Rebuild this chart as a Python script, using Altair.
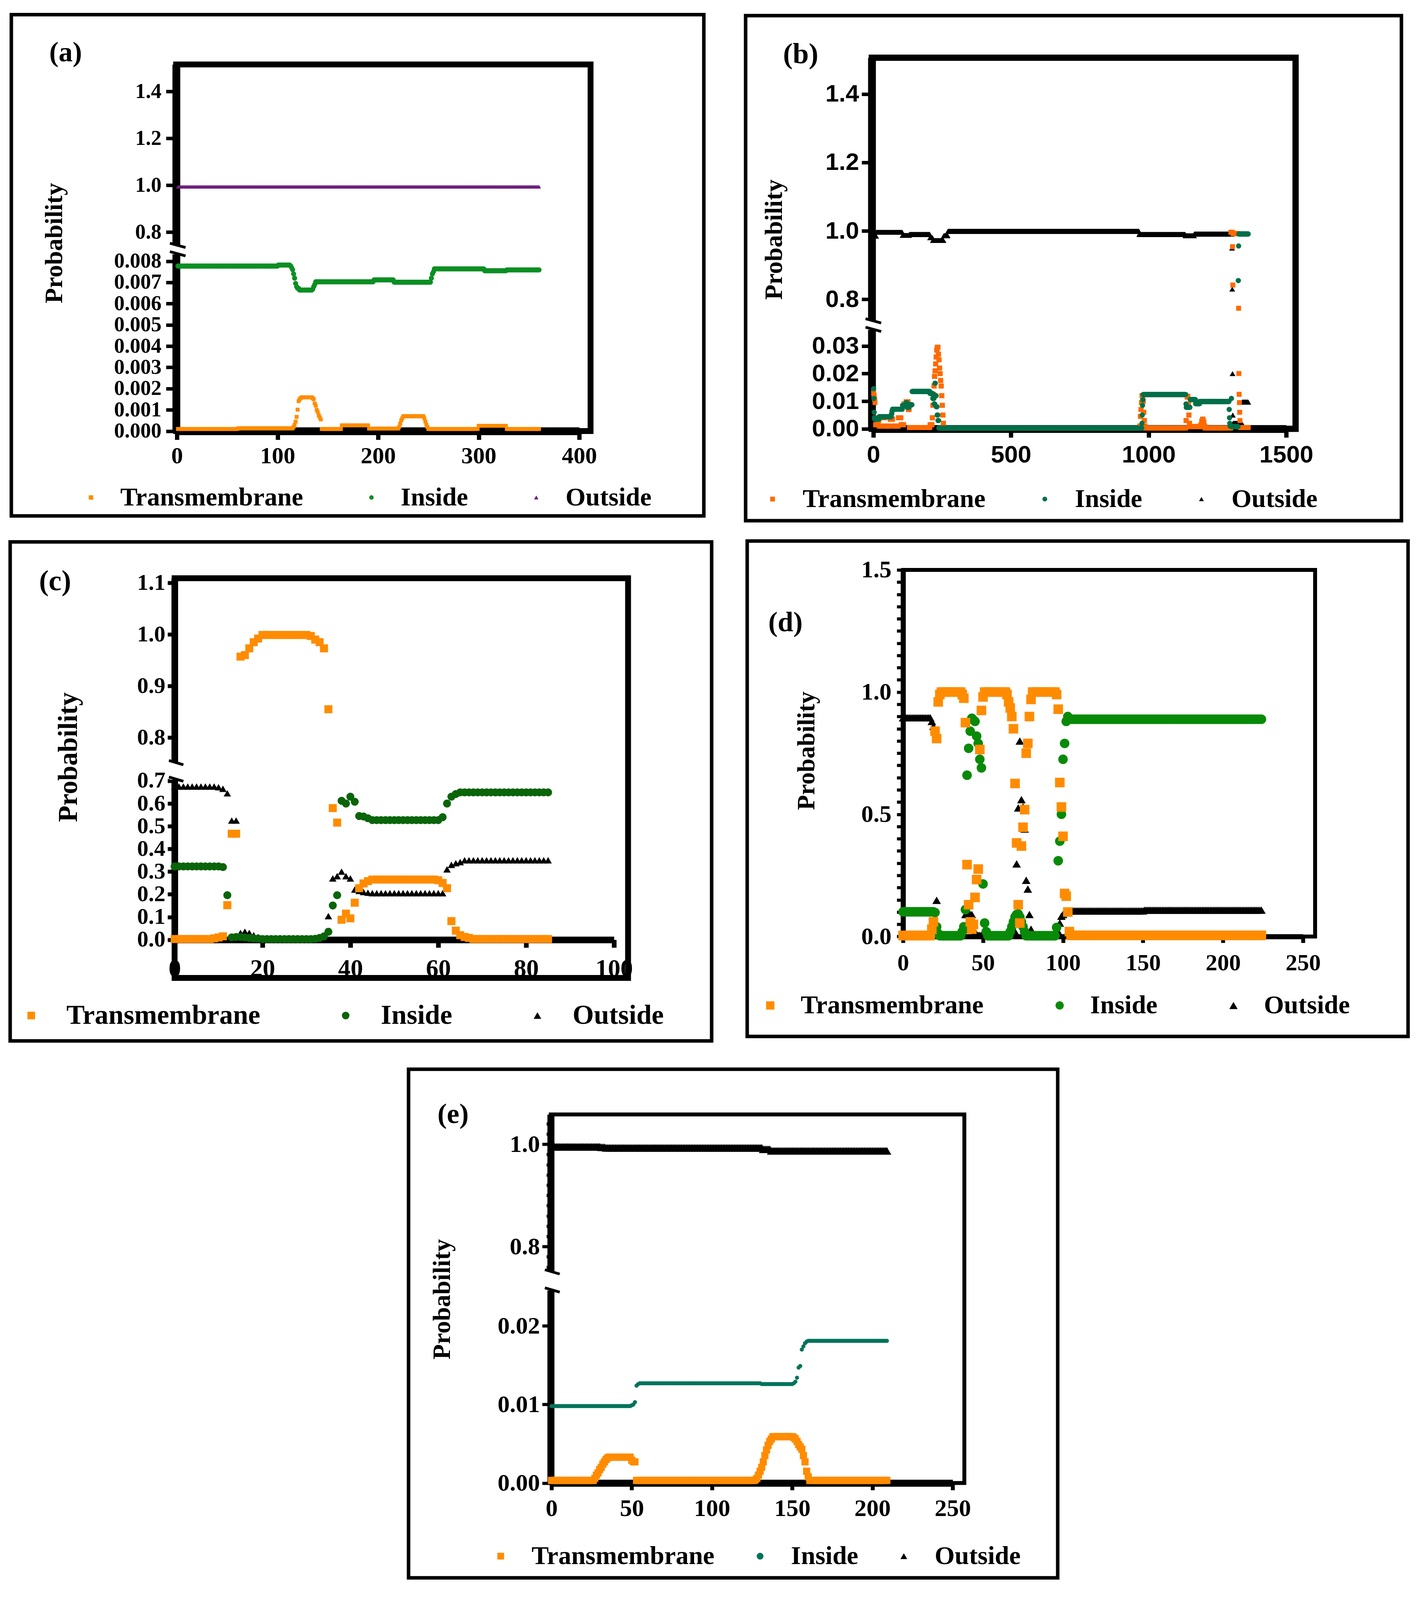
import altair as alt
import pandas as pd

# The page is photographed in a viewport about 4096px tall, so the reference
# layout (3633 x 4935) is kept horizontally and compressed vertically by S.
W, H = 3617, 4060
S = 4046 / 4919
SERIES = ["Transmembrane", "Inside", "Outside"]
SHAPES = ["square", "circle", "triangle-up"]
SERIF = "Liberation Serif"
SANS = "Liberation Sans"


def runs(*pairs):
    # (count, value) pairs
    vals = []
    for n, v in pairs:
        vals.extend([v] * n)
    return vals


# ---------------- (a) positions 1..360
a_tm = runs((60, 0.0001), (55, 0.00013), (1, 0.0002), (1, 0.0003), (1, 0.00045), (1, 0.00067),
            (1, 0.00101), (1, 0.00141), (1, 0.0015), (1, 0.00155), (11, 0.00159), (1, 0.00155),
            (1, 0.0015), (1, 0.0013), (1, 0.0012), (1, 0.001), (1, 0.0009), (1, 0.00075),
            (1, 0.00065), (1, 0.00055), (20, 0.0001), (27, 0.00027), (30, 0.00012), (1, 0.0002),
            (1, 0.00035), (1, 0.0005), (1, 0.0006), (21, 0.0007), (1, 0.0006), (1, 0.00045),
            (1, 0.0003), (1, 0.0002), (50, 0.0001), (28, 0.00025), (33, 0.0001))
a_in = runs((100, 0.00777), (12, 0.00782), (1, 0.00778), (1, 0.0077), (1, 0.0076), (1, 0.0074),
            (1, 0.0072), (1, 0.00695), (1, 0.0068), (2, 0.00672), (13, 0.00664), (1, 0.00668),
            (1, 0.0068), (1, 0.0069), (58, 0.00703), (20, 0.00712), (37, 0.00701), (1, 0.0072),
            (1, 0.0074), (1, 0.0075), (50, 0.00764), (22, 0.00755), (33, 0.00759))
a_out = runs((360, 0.994))

# ---------------- (b) positions 1..1362
b_tm = runs((1, 0.013), (1, 0.0125), (1, 0.012), (1, 0.011), (1, 0.0105), (1, 0.0095), (1, 0.004),
            (8, 0.0015), (5, 0.003), (10, 0.001), (10, 0.004), (20, 0.001), (10, 0.0035),
            (20, 0.001), (10, 0.004), (10, 0.0015), (8, 0.009), (8, 0.0098), (4, 0.007),
            (75, 0.0005), (8, 0.0015),
            (2, 0.004), (2, 0.0085), (2, 0.0125), (2, 0.0155), (2, 0.019), (2, 0.021), (2, 0.0235),
            (2, 0.026), (2, 0.0285), (2, 0.0295), (2, 0.0295), (2, 0.027), (2, 0.025), (2, 0.022),
            (2, 0.02), (2, 0.0175), (2, 0.0155), (2, 0.012), (2, 0.0085), (2, 0.005), (2, 0.002),
            (712, 0.0003),
            (2, 0.001), (2, 0.0045), (2, 0.007), (2, 0.0095), (2, 0.012), (2, 0.0115), (2, 0.01),
            (2, 0.006), (2, 0.003), (2, 0.001), (148, 0.0003),
            (2, 0.003), (2, 0.008), (2, 0.0115), (2, 0.0118), (2, 0.009), (2, 0.005), (2, 0.002),
            (40, 0.0008), (3, 0.0015), (3, 0.0028), (3, 0.0035), (3, 0.0025), (3, 0.001),
            (94, 0.0003), (6, 0.996), (1, 0.954), (1, 0.842), (20, 0.992), (1, 0.774), (1, 0.02),
            (1, 0.0125), (1, 0.0095), (1, 0.006), (1, 0.003), (30, 0.0005))
b_in = runs((1, 0.0145), (1, 0.011), (1, 0.006), (1, 0.004), (16, 0.0035), (45, 0.0044),
            (2, 0.0055), (2, 0.0065), (36, 0.0071), (13, 0.0085), (4, 0.0095), (8, 0.0078),
            (10, 0.0087), (65, 0.0135), (10, 0.0128), (5, 0.011), (3, 0.009), (2, 0.0165),
            (3, 0.012), (3, 0.008), (3, 0.005), (3, 0.003), (738, 0.0003), (1, 0.002), (1, 0.005),
            (1, 0.0085), (1, 0.0105), (156, 0.0124), (1, 0.009), (14, 0.0078), (20, 0.0106),
            (15, 0.0091), (107, 0.0099), (1, 0.007), (1, 0.004), (1, 0.002), (5, 0.001),
            (1, 0.011), (24, 0.0008), (1, 0.855), (1, 0.956), (35, 0.991))
b_out = runs((10, 0.985), (95, 0.996), (25, 0.987), (75, 0.99), (10, 0.98), (40, 0.972),
             (15, 0.986), (695, 0.999), (168, 0.99), (32, 0.986), (137, 0.991), (1, 0.95),
             (1, 0.83), (1, 0.02), (1, 0.005), (33, 0.002), (23, 0.0097))

# ---------------- (c) positions 0..85
c_tm = runs((9, 0.003), (1, 0.006), (1, 0.01), (1, 0.015), (1, 0.152), (2, 0.467), (1, 0.957),
            (1, 0.96), (1, 0.973), (1, 0.985), (1, 0.992), (11, 0.999), (1, 0.997), (1, 0.99),
            (1, 0.985), (1, 0.973), (1, 0.855), (1, 0.58), (1, 0.516), (1, 0.088), (1, 0.115),
            (1, 0.094), (1, 0.163), (1, 0.227), (1, 0.248), (1, 0.258), (15, 0.265), (1, 0.262),
            (1, 0.25), (1, 0.227), (1, 0.082), (1, 0.04), (1, 0.02), (1, 0.012), (1, 0.008),
            (18, 0.003))
c_in = runs((11, 0.323), (1, 0.32), (1, 0.196), (1, 0.01), (2, 0.012), (1, 0.01), (1, 0.008),
            (1, 0.006), (1, 0.005), (12, 0.003), (1, 0.004), (1, 0.008), (1, 0.015), (1, 0.035),
            (1, 0.151), (1, 0.196), (1, 0.612), (1, 0.6), (1, 0.63), (1, 0.608), (1, 0.545),
            (1, 0.543), (1, 0.535), (16, 0.527), (1, 0.54), (1, 0.6), (1, 0.63), (1, 0.642),
            (21, 0.649))
c_out = runs((10, 0.675), (1, 0.672), (1, 0.665), (1, 0.645), (2, 0.525), (1, 0.03), (1, 0.035),
             (1, 0.03), (1, 0.02), (1, 0.012), (14, 0.004), (1, 0.01), (1, 0.104), (1, 0.27),
             (1, 0.28), (1, 0.30), (1, 0.28), (1, 0.27), (1, 0.221), (1, 0.215), (1, 0.21),
             (1, 0.207), (17, 0.205), (1, 0.31), (1, 0.33), (1, 0.337), (1, 0.342), (20, 0.35))

# ---------------- (d) positions 0..224
d_tm = runs((18, 0.004), (1, 0.03), (1, 0.06), (1, 0.84), (1, 0.81), (1, 0.96), (1, 0.99),
            (13, 1.0), (1, 0.99), (1, 0.975), (1, 0.875), (1, 0.294), (1, 0.13), (1, 0.06),
            (1, 0.03), (1, 0.05), (1, 0.16), (1, 0.233), (1, 0.276), (1, 0.765), (1, 0.925),
            (1, 0.98), (14, 1.0), (1, 0.99), (1, 0.96), (1, 0.935), (1, 0.9), (1, 0.85),
            (1, 0.626), (1, 0.383), (1, 0.13), (1, 0.055), (1, 0.37), (1, 0.447), (1, 0.519),
            (1, 0.75), (1, 0.79), (1, 0.9), (1, 0.97), (15, 1.0), (1, 0.99), (1, 0.93), (1, 0.63),
            (1, 0.53), (1, 0.41), (1, 0.176), (1, 0.165), (1, 0.10), (1, 0.02), (120, 0.005))
d_in = runs((20, 0.101), (1, 0.098), (1, 0.04), (1, 0.012), (14, 0.003), (1, 0.02), (1, 0.04),
            (1, 0.11), (1, 0.66), (1, 0.77), (1, 0.84), (1, 0.893), (1, 0.886), (1, 0.88),
            (1, 0.82), (1, 0.79), (1, 0.725), (1, 0.69), (1, 0.215), (1, 0.055), (1, 0.02),
            (14, 0.003), (1, 0.02), (1, 0.04), (1, 0.06), (1, 0.08), (1, 0.09), (1, 0.092),
            (1, 0.08), (1, 0.06), (1, 0.04), (1, 0.02), (19, 0.003), (1, 0.037), (1, 0.31),
            (1, 0.39), (1, 0.50), (1, 0.725), (1, 0.79), (1, 0.88), (1, 0.9), (121, 0.889))
d_out = runs((18, 0.895), (1, 0.88), (1, 0.86), (1, 0.84), (1, 0.148), (1, 0.03), (15, 0.005),
             (1, 0.03), (1, 0.09), (1, 0.09), (1, 0.1), (1, 0.09), (1, 0.09), (1, 0.05),
             (1, 0.02), (24, 0.005), (1, 0.02), (1, 0.297), (1, 0.526), (1, 0.80), (1, 0.56),
             (1, 0.53), (1, 0.44), (1, 0.23), (1, 0.194), (1, 0.09), (1, 0.03), (16, 0.005),
             (1, 0.02), (1, 0.055), (1, 0.083), (1, 0.09), (1, 0.1), (49, 0.105), (74, 0.108))

# ---------------- (e) positions 0..209
e_tm = runs((27, 0.00033), (1, 0.0006), (1, 0.001), (1, 0.0013), (1, 0.0017), (1, 0.002),
            (1, 0.0024), (1, 0.0027), (1, 0.003), (1, 0.0032), (14, 0.0033), (1, 0.0029),
            (2, 0.0027), (74, 0.00033), (1, 0.0004), (1, 0.0006), (1, 0.001), (1, 0.0015),
            (1, 0.002), (1, 0.0027), (1, 0.0035), (1, 0.0042), (1, 0.0048), (1, 0.0053),
            (1, 0.0056), (13, 0.0059), (1, 0.0058), (1, 0.0056), (1, 0.0053), (1, 0.0049),
            (1, 0.0046), (1, 0.0043), (1, 0.0035), (1, 0.0027), (1, 0.0015), (1, 0.0008),
            (49, 0.00033))
e_in = runs((50, 0.0098), (1, 0.0099), (1, 0.01), (1, 0.0103), (1, 0.0124), (1, 0.0126),
            (76, 0.0127), (20, 0.0126), (1, 0.0127), (1, 0.0129), (1, 0.0134), (1, 0.0147),
            (1, 0.0149), (1, 0.017), (1, 0.0174), (1, 0.0178), (1, 0.018), (50, 0.0181))
e_out = runs((31, 0.995), (3, 0.994), (98, 0.993), (5, 0.99), (73, 0.987))

# axis tick values
a_yticks = [0, 0.001, 0.002, 0.003, 0.004, 0.005, 0.006, 0.007, 0.008, 0.8, 1.0, 1.2, 1.4]
b_yticks = [0, 0.01, 0.02, 0.03, 0.8, 1.0, 1.2, 1.4]
c_yticks = [0, 0.1, 0.2, 0.3, 0.4, 0.5, 0.6, 0.7, 0.8, 0.9, 1.0, 1.1]
d_yticks = [round(0.05 * i, 2) for i in range(31)]
e_yticks = [0, 0.01, 0.02, 0.8, 1.0]
e_yminor = [0.76, 0.78, 0.82, 0.84, 0.86, 0.88, 0.9, 0.92, 0.94, 0.96, 0.98, 1.02, 1.04]

FMT3 = "datum.value < 0.5 ? format(datum.value, '.3f') : format(datum.value, '.1f')"
FMT2 = "datum.value < 0.5 ? format(datum.value, '.2f') : format(datum.value, '.1f')"

# layout in reference-image pixels (x as is, y compressed by S in cy)
PANELS = [
    dict(tag="(a)", tm=a_tm, ins=a_in, out=a_out, start=1,
         order=["Transmembrane", "Inside", "Outside"],
         colors=["#ff8c00", "#0b8f23", "#6d1f7c"], sizes=[100, 170, 110],
         box=(29, 44, 1802, 1604), tagpos=(168, 162, 72),
         frame=(451, 199, 1512, 1340), frame_w=15, axis_w=20,
         xdom=[0, 400], xrange=[453, 1483], xvals=[0, 100, 200, 300, 400],
         ydom=[0, 0.00832, 0.7466, 1.515], yrange=[1340, 790, 760, 199],
         yvals=a_yticks, yexpr=FMT3, brk=(760, 790), font=SERIF, yfs=54, xfs=60,
         ytick=26, ypad=12, xtick=22, xlab=1415, tickw=9,
         title=(140, 755, 64),
         legend=dict(x=200, y=1541, fs=66, off=42, gap=141, sym=130)),
    dict(tag="(b)", tm=b_tm, ins=b_in, out=b_out, start=1,
         order=["Outside", "Transmembrane", "Inside"],
         colors=["#ff6a00", "#00704a", "#000000"], sizes=[160, 180, 220],
         box=(1909, 47, 3588, 1619), tagpos=(2050, 168, 74),
         frame=(2232, 178, 3317, 1333), frame_w=16, axis_w=20,
         xdom=[0, 1500], xrange=[2236, 3293], xvals=[0, 500, 1000, 1500],
         ydom=[0, 0.0358, 0.739, 1.506], yrange=[1333, 1025, 995, 178],
         yvals=b_yticks, yexpr=FMT2, brk=(995, 1025), font=SANS, yfs=62, xfs=62,
         ytick=26, ypad=7, xtick=22, xlab=1410, tickw=9,
         title=(1983, 744, 64),
         legend=dict(x=1945, y=1546, fs=66, off=44, gap=118, sym=150)),
    dict(tag="(c)", tm=c_tm, ins=c_in, out=c_out, start=0,
         order=["Outside", "Transmembrane", "Inside"],
         colors=["#ff8c00", "#0a640a", "#000000"], sizes=[420, 420, 360],
         box=(26, 1685, 1822, 3238), tagpos=(141, 1808, 74),
         frame=(447, 1798, 1608, 3042), frame_w=15, axis_w=17,
         xdom=[0, 100], xrange=[447, 1572], xvals=[0, 20, 40, 60, 80, 100],
         ydom=[0, 0.705, 0.7526, 1.109], yrange=[2923, 2425, 2370, 1798],
         yvals=c_yticks, yexpr="format(datum.value, '.1f')", brk=(2370, 2425), font=SERIF,
         yfs=58, xfs=64, ytick=18, ypad=6, xtick=20, xlab=3010, tickw=10,
         title=(176, 2355, 69),
         legend=dict(x=45, y=3153, fs=70, off=55, gap=183, sym=380)),
    dict(tag="(d)", tm=d_tm, ins=d_in, out=d_out, start=0,
         order=["Outside", "Inside", "Transmembrane"],
         colors=["#ff8c00", "#088a08", "#000000"], sizes=[600, 600, 480],
         box=(1913, 1682, 3605, 3224), tagpos=(2011, 1936, 72),
         frame=(2312, 1772, 3367, 2913), frame_w=10, axis_w=13,
         xdom=[0, 250], xrange=[2312, 3336], xvals=[0, 50, 100, 150, 200, 250],
         ydom=[0, 1.5], yrange=[2913, 1772], yvals=d_yticks,
         yexpr="abs(datum.value * 2 - round(datum.value * 2)) < 0.001 ? format(datum.value, '.1f') : ''",
         brk=None, font=SERIF, yfs=62, xfs=60,
         ytick=16, ypad=14, xtick=16, xlab=2994, tickw=8,
         title=(2066, 2335, 63),
         legend=dict(x=1939, y=3122, fs=66, off=45, gap=161, sym=450)),
    dict(tag="(e)", tm=e_tm, ins=e_in, out=e_out, start=0,
         order=["Transmembrane", "Inside", "Outside"],
         colors=["#ff8c00", "#00735a", "#000000"], sizes=[340, 110, 520],
         box=(1046, 3326, 2708, 4909), tagpos=(1160, 3467, 72),
         frame=(1410, 3467, 2469, 4614), frame_w=10, axis_w=18,
         xdom=[0, 250], xrange=[1412, 2439], xvals=[0, 50, 100, 150, 200, 250],
         ydom=[0, 0.0245, 0.7517, 1.058], yrange=[4614, 4015, 3955, 3467],
         yvals=e_yticks, yexpr=FMT2, yminor=e_yminor,
         brk=(3955, 4015), font=SERIF, yfs=62, xfs=62,
         ytick=22, ypad=6, xtick=18, xlab=4690, tickw=8,
         title=(1133, 4042, 64),
         legend=dict(x=1249, y=4836, fs=66, off=46, gap=83, sym=300)),
]


def cx(v):
    return v - 8


def cy(v):
    return (v - 8) * S


ONE = pd.DataFrame({"k": [0]})


def rect(x1, y1, x2, y2, **style):
    return alt.Chart(ONE).mark_rect(**style).encode(
        x=alt.value(cx(x1)), x2=alt.value(cx(x2)), y=alt.value(cy(y1)), y2=alt.value(cy(y2)))


def seg(x1, y1, x2, y2, width):
    return alt.Chart(ONE).mark_rule(color="black", strokeWidth=width).encode(
        x=alt.value(cx(x1)), y=alt.value(y1), x2=alt.value(cx(x2)), y2=alt.value(y2))


def label(text, x, y, size, angle=0):
    return alt.Chart(ONE).mark_text(text=text, font=SERIF, fontWeight="bold", fontSize=size,
                                    color="black", align="center", baseline="middle",
                                    angle=angle).encode(x=alt.value(cx(x)), y=alt.value(cy(y)))


def make_panel(p):
    fx1, fy1, fx2, fy2 = p["frame"]
    xscale = alt.Scale(domain=p["xdom"], range=[cx(v) for v in p["xrange"]], nice=False, zero=False)
    yscale = alt.Scale(domain=p["ydom"], range=[cy(v) for v in p["yrange"]], nice=False, zero=False)
    common = dict(labelFont=p["font"], labelFontWeight="bold", labelColor="black",
                  tickColor="black", domainColor="black", grid=False, title=None,
                  labelOverlap=False, labelFlush=False, labelLimit=600)
    k = 0.432 if p["font"] == SANS else 0.452
    xpad = max(2, cy(p["xlab"]) - cy(p["yrange"][0]) - p["xtick"] - k * p["xfs"])
    xaxis = alt.Axis(orient="bottom", offset=cy(p["yrange"][0]) - H, values=p["xvals"], format="d",
                     labelFontSize=p["xfs"], labelPadding=xpad, tickSize=p["xtick"],
                     tickWidth=p["tickw"] + 2, domainWidth=p["axis_w"], **common)
    yaxis = alt.Axis(orient="left", offset=-cx(fx1), values=p["yvals"], labelExpr=p["yexpr"],
                     labelFontSize=p["yfs"], labelPadding=p["ypad"], tickSize=p["ytick"],
                     tickWidth=p["tickw"], domainWidth=p["axis_w"], **common)
    lg = p["legend"]
    legend = alt.Legend(orient="none", legendX=cx(lg["x"]), legendY=cy(lg["y"]) - 0.43 * lg["fs"],
                        direction="horizontal", title=None, labelFont=SERIF, labelFontWeight="bold",
                        labelFontSize=lg["fs"], labelColor="black", labelOffset=lg["off"],
                        columnPadding=lg["gap"], labelLimit=1000, padding=0,
                        symbolSize=lg["sym"], symbolStrokeWidth=0)

    vals = {"Transmembrane": p["tm"], "Inside": p["ins"], "Outside": p["out"]}
    series = []
    for name in p["order"]:
        v = vals[name]
        df = pd.DataFrame({"pos": list(range(p["start"], p["start"] + len(v))), "prob": v, "series": name})
        series.append(alt.Chart(df).mark_point(
            filled=True, opacity=1, strokeWidth=0, size=p["sizes"][SERIES.index(name)]
        ).encode(
            x=alt.X("pos:Q", scale=xscale, axis=xaxis),
            y=alt.Y("prob:Q", scale=yscale, axis=yaxis),
            color=alt.Color("series:N", scale=alt.Scale(domain=SERIES, range=p["colors"]), legend=legend),
            shape=alt.Shape("series:N", scale=alt.Scale(domain=SERIES, range=SHAPES)),
        ))

    bx1, by1, bx2, by2 = p["box"]
    layers = [
        rect(bx1, by1, bx2, by2, fillOpacity=0, stroke="black", strokeWidth=9),
        rect(fx1, fy1, fx2, fy2, fillOpacity=0, stroke="black", strokeWidth=p["frame_w"]),
        alt.layer(*series),
    ]
    if p.get("yminor"):
        minor_axis = alt.Axis(orient="left", offset=-cx(fx1), values=p["yminor"], labels=False,
                              tickSize=11, tickWidth=p["tickw"], domain=False, tickColor="black",
                              grid=False, title=None)
        layers.append(alt.Chart(pd.DataFrame({"prob": p["out"]})).mark_point(opacity=0).encode(
            y=alt.Y("prob:Q", scale=yscale, axis=minor_axis)))
    if p["brk"]:
        ya, yb = cy(p["brk"][0]), cy(p["brk"][1])
        aw = p["axis_w"]
        layers.append(alt.Chart(ONE).mark_rect(color="white").encode(
            x=alt.value(cx(fx1 - aw / 2 - 3)), x2=alt.value(cx(fx1 + aw / 2 + 3)),
            y=alt.value(ya), y2=alt.value(yb)))
        layers.append(seg(fx1 - aw / 2 - 6, ya - 4, fx1 + aw / 2 + 14, ya + 7, 7))
        layers.append(seg(fx1 - aw / 2 - 6, yb - 7, fx1 + aw / 2 + 14, yb + 4, 7))
    tx, ty, ts = p["tagpos"]
    layers.append(label(p["tag"], tx, ty, ts))
    lx, ly, ls = p["title"]
    layers.append(label("Probability", lx, ly, ls, angle=270))

    panel = alt.layer(*layers)
    if p.get("yminor"):
        panel = panel.resolve_axis(y="independent")
    return panel


chart = alt.layer(*[make_panel(p) for p in PANELS]).resolve_scale(
    x="independent", y="independent", color="independent", shape="independent"
).properties(
    width=W, height=H, autosize=alt.AutoSizeParams(type="none"), padding=0, background="white"
).configure_view(stroke=None)

chart.save("out.html", embed_options={"renderer": "svg", "actions": False})
